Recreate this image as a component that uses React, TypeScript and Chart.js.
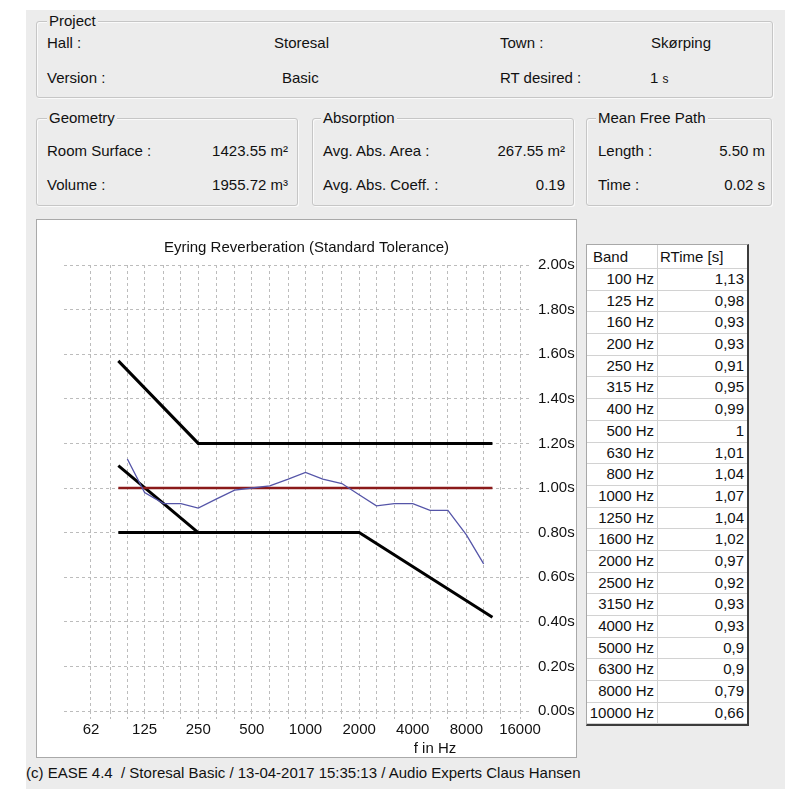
import React, { useEffect, useRef } from 'react';
import { Chart, registerables } from 'chart.js';

Chart.register(...registerables);

// ---- data ----
const BANDS = [100, 125, 160, 200, 250, 315, 400, 500, 630, 800, 1000, 1250, 1600, 2000, 2500, 3150, 4000, 5000, 6300, 8000, 10000];
const RT_VALUES = [1.13, 0.98, 0.93, 0.93, 0.91, 0.95, 0.99, 1, 1.01, 1.04, 1.07, 1.04, 1.02, 0.97, 0.92, 0.93, 0.93, 0.9, 0.9, 0.79, 0.66];

const UPPER_F = [89, 250, 11200];
const UPPER_T = [1.57, 1.2, 1.2];
const SLOPE_F = [89, 250];
const SLOPE_T = [1.1, 0.8];
const LOWER_F = [89, 2000, 11200];
const LOWER_T = [0.8, 0.8, 0.42];
const TARGET_F = [89, 11200];
const TARGET_T = [1, 1];

const GRID_FREQS = [62.5, 80, 100, 125, 160, 200, 250, 315, 400, 500, 630, 800, 1000, 1250, 1600, 2000, 2500, 3150, 4000, 5000, 6300, 8000, 10000, 12500, 16000];
const OCTAVE_FREQS = [62.5, 125, 250, 500, 1000, 2000, 4000, 8000, 16000];
const OCTAVE_TEXT = ['62', '125', '250', '500', '1000', '2000', '4000', '8000', '16000'];
const Y_TICKS = [0, 0.2, 0.4, 0.6, 0.8, 1.0, 1.2, 1.4, 1.6, 1.8, 2.0];

const X_MIN = 44.1;
const X_MAX = 18200;

const FONT = '"Liberation Sans", Arial, Helvetica, sans-serif';
const BG = '#ececec';

const pts = (xs: number[], ys: number[]) => xs.map((x, i) => ({ x, y: ys[i] }));

function ChartCanvas() {
  const ref = useRef<HTMLCanvasElement | null>(null);
  useEffect(() => {
    if (!ref.current) return;
    Chart.defaults.font.family = FONT;
    const chart = new Chart(ref.current, {
      type: 'line',
      data: {
        datasets: [
          { data: pts(BANDS, RT_VALUES), borderColor: '#5555a8', borderWidth: 1.3, pointRadius: 0, tension: 0 },
          { data: pts(TARGET_F, TARGET_T), borderColor: '#8b1a1a', borderWidth: 2.5, pointRadius: 0 },
          { data: pts(UPPER_F, UPPER_T), borderColor: '#000', borderWidth: 3, pointRadius: 0 },
          { data: pts(SLOPE_F, SLOPE_T), borderColor: '#000', borderWidth: 3, pointRadius: 0 },
          { data: pts(LOWER_F, LOWER_T), borderColor: '#000', borderWidth: 3, pointRadius: 0 },
        ],
      },
      options: {
        animation: false,
        responsive: false,
        devicePixelRatio: 1,
        layout: { padding: 0 },
        plugins: {
          legend: { display: false },
          tooltip: { enabled: false },
          title: {
            display: true,
            text: 'Eyring Reverberation (Standard Tolerance)',
            color: '#111',
            font: { size: 15, weight: 'normal', family: FONT, lineHeight: 1.2 },
            padding: { top: 19, bottom: 8 },
          },
        },
        scales: {
          x: {
            type: 'logarithmic',
            min: X_MIN,
            max: X_MAX,
            afterBuildTicks: (s: any) => {
              s.ticks = GRID_FREQS.map((v) => ({ value: v }));
            },
            afterFit: (s: any) => {
              s.height = 46;
            },
            ticks: {
              autoSkip: false,
              maxRotation: 0,
              padding: 2,
              color: '#111',
              font: { size: 15 },
              callback: (v: any) => {
                const i = OCTAVE_FREQS.indexOf(Number(v));
                return i >= 0 ? OCTAVE_TEXT[i] : '';
              },
            },
            grid: {
              color: '#bcbcbc',
              lineWidth: 1,
              drawTicks: true,
              tickLength: 8,
              tickColor: '#bcbcbc',
              tickBorderDash: [3, 3],
            },
            border: { display: false, dash: [3, 3] },
          },
          spacer: {
            type: 'linear',
            position: 'left',
            display: true,
            min: 0,
            max: 2,
            afterFit: (s: any) => {
              s.width = 27;
            },
            ticks: { display: false },
            grid: { display: false, drawOnChartArea: false },
            border: { display: false },
          },
          y: {
            type: 'linear',
            position: 'right',
            min: 0,
            max: 2,
            afterBuildTicks: (s: any) => {
              s.ticks = Y_TICKS.map((v) => ({ value: v }));
            },
            afterFit: (s: any) => {
              s.width = 46;
            },
            ticks: {
              padding: 8,
              color: '#111',
              font: { size: 15 },
              callback: (v: any) => Number(v).toFixed(2) + 's',
            },
            grid: { color: '#bcbcbc', lineWidth: 1, drawTicks: false },
            border: { display: false, dash: [3, 3] },
          },
        },
      },
    } as any);
    return () => chart.destroy();
  }, []);
  return <canvas ref={ref} width={539} height={537} style={{ display: 'block', width: 539, height: 537 }} />;
}

function T({ x, y, right, center, size = 15, children }: any) {
  const style: any = {
    position: 'absolute',
    top: y - 9,
    height: 18,
    lineHeight: '18px',
    whiteSpace: 'nowrap',
    fontSize: size,
  };
  if (right) {
    style.right = 785 - x;
    style.textAlign = 'right';
  } else if (center) {
    style.left = x;
    style.transform = 'translateX(-50%)';
  } else {
    style.left = x;
  }
  return <div style={style}>{children}</div>;
}

function Group({ left, top, right, bottom, label, labelX }: any) {
  return (
    <>
      <div
        style={{
          position: 'absolute',
          left,
          top,
          width: right - left,
          height: bottom - top,
          boxSizing: 'border-box',
          border: '1px solid #c6c6c6',
          borderRadius: 3,
          boxShadow: 'inset 1px 1px 0 #fafafa, 1px 1px 0 #fafafa',
        }}
      />
      <div
        style={{
          position: 'absolute',
          left: labelX - 2,
          top: top - 9,
          height: 18,
          lineHeight: '18px',
          padding: '0 2px',
          background: BG,
          fontSize: 15,
          whiteSpace: 'nowrap',
        }}
      >
        {label}
      </div>
    </>
  );
}

function BandTable() {
  const rowH = 21.7;
  const cellLine = '1px solid #d2d2d2';
  return (
    <div
      style={{
        position: 'absolute',
        left: 586,
        top: 244,
        width: 160,
        background: '#fff',
        borderLeft: '1px solid #a8a8a8',
        borderTop: '1px solid #a8a8a8',
        borderRight: '2px solid #3c3c3c',
        borderBottom: '2px solid #3c3c3c',
        boxSizing: 'content-box',
        fontSize: 15,
      }}
    >
      <div style={{ display: 'flex', height: 23, lineHeight: '23px', borderBottom: cellLine }}>
        <div style={{ width: 71, borderRight: cellLine, paddingLeft: 6, boxSizing: 'border-box' }}>Band</div>
        <div style={{ flex: 1, paddingLeft: 2 }}>RTime [s]</div>
      </div>
      {BANDS.map((b, i) => (
        <div
          key={b}
          style={{ display: 'flex', height: rowH, lineHeight: rowH - 1 + 'px', boxSizing: 'border-box', borderBottom: cellLine }}
        >
          <div style={{ width: 71, borderRight: cellLine, textAlign: 'right', paddingRight: 3, boxSizing: 'border-box' }}>
            {b} Hz
          </div>
          <div style={{ flex: 1, textAlign: 'right', paddingRight: 3 }}>{String(RT_VALUES[i]).replace('.', ',')}</div>
        </div>
      ))}
    </div>
  );
}

export default function App() {
  return (
    <div
      style={{
        position: 'absolute',
        left: 0,
        top: 0,
        width: 785,
        height: 789,
        overflow: 'hidden',
        background: '#fff',
        fontFamily: FONT,
        fontSize: 15,
        color: '#111',
      }}
    >
      <div style={{ position: 'absolute', left: 26, top: 10, right: 0, bottom: 0, background: BG }} />

      <Group left={36} top={21} right={773} bottom={98} label="Project" labelX={49} />
      <T x={47} y={43}>Hall :</T>
      <T x={274} y={43}>Storesal</T>
      <T x={500} y={43}>Town :</T>
      <T x={651} y={43}>Skørping</T>
      <T x={47} y={78}>Version :</T>
      <T x={282} y={78}>Basic</T>
      <T x={500} y={78}>RT desired :</T>
      <T x={650} y={78}>
        1 <span style={{ fontSize: 12 }}>s</span>
      </T>

      <Group left={36} top={118} right={298} bottom={206} label="Geometry" labelX={49} />
      <T x={47} y={151}>Room Surface :</T>
      <T x={288} y={151} right>1423.55 m²</T>
      <T x={47} y={185}>Volume :</T>
      <T x={288} y={185} right>1955.72 m³</T>

      <Group left={312} top={118} right={574} bottom={206} label="Absorption" labelX={323} />
      <T x={323} y={151}>Avg. Abs. Area :</T>
      <T x={565} y={151} right>267.55 m²</T>
      <T x={323} y={185}>Avg. Abs. Coeff. :</T>
      <T x={565} y={185} right>0.19</T>

      <Group left={586} top={118} right={772} bottom={206} label="Mean Free Path" labelX={598} />
      <T x={598} y={151}>Length :</T>
      <T x={765} y={151} right>5.50 m</T>
      <T x={598} y={185}>Time :</T>
      <T x={765} y={185} right>0.02 s</T>

      <div
        style={{
          position: 'absolute',
          left: 36,
          top: 219,
          width: 539,
          height: 537,
          border: '1px solid #a9a9a9',
          background: '#fff',
        }}
      >
        <ChartCanvas />
      </div>
      <T x={435} y={748} center>f in Hz</T>

      <BandTable />

      <T x={26} y={773}>(c) EASE 4.4&nbsp; / Storesal Basic / 13-04-2017 15:35:13 / Audio Experts Claus Hansen</T>
    </div>
  );
}
